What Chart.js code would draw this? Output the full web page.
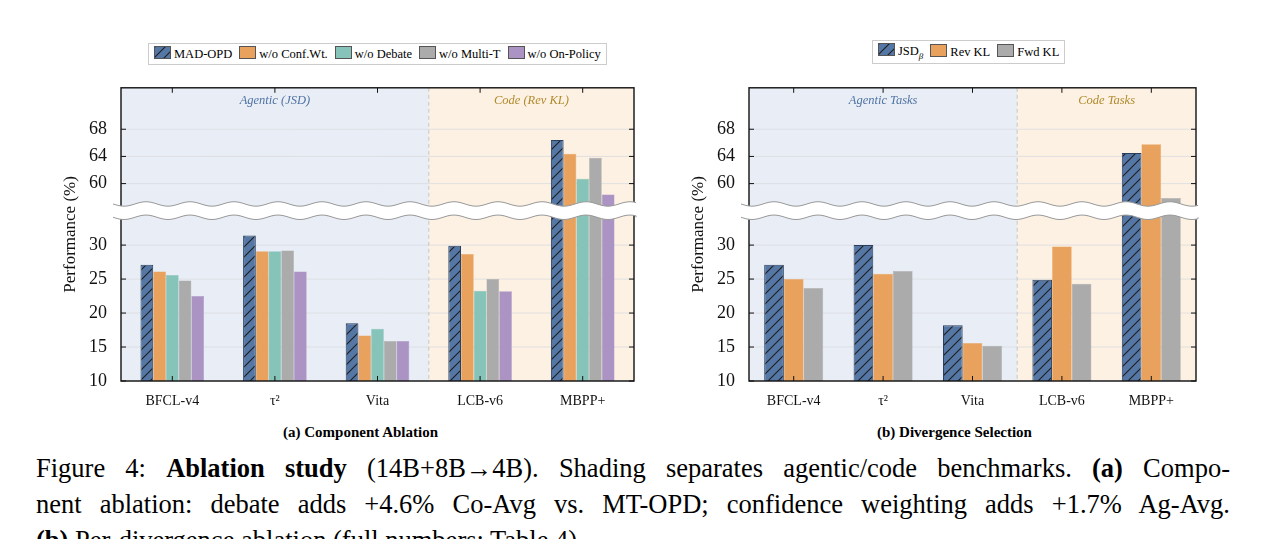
<!DOCTYPE html>
<html>
<head>
<meta charset="utf-8">
<script src="https://cdn.jsdelivr.net/npm/chart.js@4.4.0/dist/chart.umd.min.js"></script>
<style>
  body { margin:0; background:#fff; width:1265px; height:539px; overflow:hidden; position:relative; font-family:"Liberation Serif", "Times New Roman", "DejaVu Serif", serif; }
  canvas { position:absolute; }
  .legend { position:absolute; border:1px solid #ccc; padding:2px 5px; font-size:12.5px; display:flex; gap:7px; align-items:center; white-space:nowrap; }
  .legend span.sw { display:inline-block; width:15px; height:11px; margin-right:3px; vertical-align:-1px; border:1px solid #555; }
  .sub { position:absolute; font-weight:bold; font-size:15px; }
  .caption { position:absolute; left:36px; top:450px; width:1194px; font-size:26.5px; line-height:36px; }
  .caption div { text-align:justify; text-align-last:justify; white-space:nowrap; }
  .caption div.last { text-align-last:left; }
</style>
</head>
<body>
<div class="legend" style="left:148px;top:43px;" id="legA"></div>
<div class="legend" style="left:872px;top:40px;" id="legB"></div>
<canvas id="ca" style="left:60px;top:71px;"></canvas>
<canvas id="cb" style="left:688px;top:71px;"></canvas>
<div class="sub" style="left:283px;top:424px;">(a) Component Ablation</div>
<div class="sub" style="left:877px;top:424px;">(b) Divergence Selection</div>
<div class="caption">
<div>Figure 4: <b>Ablation study</b> (14B+8B→4B). Shading separates agentic/code benchmarks. <b>(a)</b> Compo-</div>
<div>nent ablation: debate adds +4.6% Co-Avg vs. MT-OPD; confidence weighting adds +1.7% Ag-Avg.</div>
<div class="last"><b>(b)</b> Per-divergence ablation (full numbers: Table 4).</div>
</div>
<script>
const categories = ['BFCL-v4', 'τ²', 'Vita', 'LCB-v6', 'MBPP+'];

const namesA = ['MAD-OPD', 'w/o Conf.Wt.', 'w/o Debate', 'w/o Multi-T', 'w/o On-Policy'];
const madOpd     = [27.1, 31.4, 18.5, 29.9, 66.4];
const noConfWt   = [26.1, 29.1, 16.7, 28.7, 64.4];
const noDebate   = [25.6, 29.1, 17.7, 23.3, 60.7];
const noMultiT   = [24.8, 29.2, 15.9, 25.0, 63.8];
const noOnPolicy = [22.5, 26.1, 15.9, 23.2, 58.4];

const namesB = ['JSD', 'Rev KL', 'Fwd KL'];
const jsdBeta = [27.1, 30.0, 18.2, 24.9, 64.5];
const revKL   = [25.0, 25.8, 15.6, 29.8, 65.8];
const fwdKL   = [23.7, 26.2, 15.2, 24.3, 57.9];

const tickValues = [10, 15, 20, 25, 30, 60, 64, 68];

// broken axis: lower part 10..33.8, upper part 57.3..74.1
const LOW_TOP = 33.8, HIGH_BOT = 57.3, GAP = 2.55;
const SHIFT = HIGH_BOT - LOW_TOP - GAP;
const toAxis = v => v <= LOW_TOP ? v : v - SHIFT;
const fromAxis = t => t <= LOW_TOP ? t : t + SHIFT;
const SERIF = '"Liberation Serif", "Times New Roman", "DejaVu Serif", serif';

function hatch(base) {
  const c = document.createElement('canvas');
  c.width = c.height = 10;
  const g = c.getContext('2d');
  g.fillStyle = base; g.fillRect(0, 0, 10, 10);
  g.strokeStyle = '#1e1e1e'; g.lineWidth = 1.1;
  g.beginPath();
  g.moveTo(-1, 11); g.lineTo(11, -1);
  g.moveTo(-6, 6); g.lineTo(6, -6);
  g.moveTo(4, 16); g.lineTo(16, 4);
  g.stroke();
  return c;
}
const hatchCanvas = hatch('#5577a6');

const decor = {
  id: 'decor',
  beforeDatasetsDraw(chart, args, o) {
    const { ctx, chartArea: a, scales: { x } } = chart;
    const mid = (x.getPixelForValue(2) + x.getPixelForValue(3)) / 2;
    ctx.save();
    ctx.fillStyle = '#e9eef6'; ctx.fillRect(a.left, a.top, mid - a.left, a.bottom - a.top);
    ctx.fillStyle = '#fdf1e3'; ctx.fillRect(mid, a.top, a.right - mid, a.bottom - a.top);
    ctx.strokeStyle = '#d9dbe0'; ctx.lineWidth = 0.8;
    const y = chart.scales.y;
    tickValues.forEach(v => {
      const py = y.getPixelForValue(toAxis(v));
      ctx.beginPath(); ctx.moveTo(a.left, py); ctx.lineTo(a.right, py); ctx.stroke();
    });
    ctx.setLineDash([4, 3]); ctx.strokeStyle = '#bbbbbb';
    ctx.beginPath(); ctx.moveTo(mid, a.top); ctx.lineTo(mid, a.bottom); ctx.stroke();
    ctx.setLineDash([]);
    ctx.font = 'italic 12.5px ' + SERIF; ctx.textAlign = 'center';
    ctx.fillStyle = '#4f73a3'; ctx.fillText(o.left, (a.left + mid) / 2, a.top + 16);
    ctx.fillStyle = '#b08a2c'; ctx.fillText(o.right, (mid + a.right) / 2, a.top + 16);
    ctx.restore();
  },
  afterDatasetsDraw(chart) {
    const { ctx, chartArea: a, scales: { x, y } } = chart;
    ctx.save();
    ctx.strokeStyle = '#111'; ctx.lineWidth = 1.4;
    ctx.strokeRect(a.left, a.top, a.right - a.left, a.bottom - a.top);
    ctx.lineWidth = 1;
    tickValues.forEach(v => {
      const py = y.getPixelForValue(toAxis(v));
      ctx.beginPath(); ctx.moveTo(a.left, py); ctx.lineTo(a.left + 5, py);
      ctx.moveTo(a.right, py); ctx.lineTo(a.right - 5, py); ctx.stroke();
    });
    categories.forEach((c, i) => {
      const px = x.getPixelForValue(i);
      ctx.beginPath(); ctx.moveTo(px, a.top); ctx.lineTo(px, a.top + 5);
      ctx.moveTo(px, a.bottom); ctx.lineTo(px, a.bottom - 5); ctx.stroke();
    });
    // break band
    const yTop = y.getPixelForValue(LOW_TOP + GAP) + 2, yBot = y.getPixelForValue(LOW_TOP) - 2;
    const x0 = a.left - 8, x1 = a.right + 2, amp = 2.2, per = 44;
    const wave = (base, dir) => {
      for (let px = dir > 0 ? x0 : x1; dir > 0 ? px <= x1 : px >= x0; px += dir) {
        ctx.lineTo(px, base + amp * Math.sin((px - x0) / per * 2 * Math.PI));
      }
    };
    ctx.beginPath(); ctx.moveTo(x0, yTop); wave(yTop, 1); wave(yBot, -1); ctx.closePath();
    ctx.fillStyle = '#fff'; ctx.fill();
    ctx.strokeStyle = '#999'; ctx.lineWidth = 1;
    ctx.beginPath(); ctx.moveTo(x0, yTop); wave(yTop, 1); ctx.stroke();
    ctx.beginPath(); ctx.moveTo(x1, yBot); wave(yBot, -1); ctx.stroke();
    ctx.restore();
  }
};

function makeChart(id, w, names, series, colors, catPct, labels) {
  const cv = document.getElementById(id);
  cv.width = w; cv.height = 334;
  cv.style.width = w + 'px'; cv.style.height = '334px';
  const ctx = cv.getContext('2d');
  const pat = ctx.createPattern(hatchCanvas, 'repeat');
  return new Chart(ctx, {
    type: 'bar',
    data: {
      labels: categories,
      datasets: series.map((s, i) => ({
        label: names[i],
        data: s.map(toAxis),
        backgroundColor: i === 0 ? pat : colors[i],
        borderColor: i === 0 ? '#2a3f5e' : colors[i],
        borderWidth: i === 0 ? 1 : 0.5,
        categoryPercentage: catPct,
        barPercentage: 1
      }))
    },
    options: {
      responsive: false, animation: false,
      layout: { padding: { top: 0, right: 16, left: 0, bottom: 0 } },
      plugins: { legend: { display: false }, tooltip: { enabled: false }, decor: labels },
      scales: {
        x: {
          grid: { display: false }, border: { display: false },
          ticks: { color: '#111', font: { family: SERIF, size: 14 }, padding: 4 },
          afterFit: s => { s.height = 24; }
        },
        y: {
          min: 10, max: toAxis(74.1),
          grid: { display: false }, border: { display: false },
          afterBuildTicks: s => { s.ticks = tickValues.map(v => ({ value: toAxis(v) })); },
          ticks: { color: '#111', font: { family: SERIF, size: 18 }, padding: 6,
                   callback: v => String(Math.round(fromAxis(v))) },
          title: { display: true, text: 'Performance (%)', color: '#111',
                   font: { family: SERIF, size: 17 }, padding: 0 },
          afterFit: s => { s.width = 61; }
        }
      }
    },
    plugins: [decor]
  });
}

const colA = ['#5577a6', '#e8a25e', '#86c3b9', '#ababab', '#ab93c4'];
const colB = ['#5577a6', '#e8a25e', '#ababab'];
makeChart('ca', 590, namesA, [madOpd, noConfWt, noDebate, noMultiT, noOnPolicy], colA, 0.62,
  { left: 'Agentic (JSD)', right: 'Code (Rev KL)' });
makeChart('cb', 524, namesB, [jsdBeta, revKL, fwdKL], colB, 0.66,
  { left: 'Agentic Tasks', right: 'Code Tasks' });

function legend(el, names, colors) {
  const hatchUrl = hatchCanvas.toDataURL();
  document.getElementById(el).innerHTML = names.map((n, i) => {
    const bg = i === 0 ? `background:url(${hatchUrl})` : `background:${colors[i]}`;
    const label = (el === 'legB' && i === 0) ? 'JSD<sub style="font-size:9px;font-style:italic">β</sub>' : n;
    return `<span><span class="sw" style="${bg}"></span>${label}</span>`;
  }).join('');
}
legend('legA', namesA, colA);
legend('legB', namesB, colB);
</script>
</body>
</html>
